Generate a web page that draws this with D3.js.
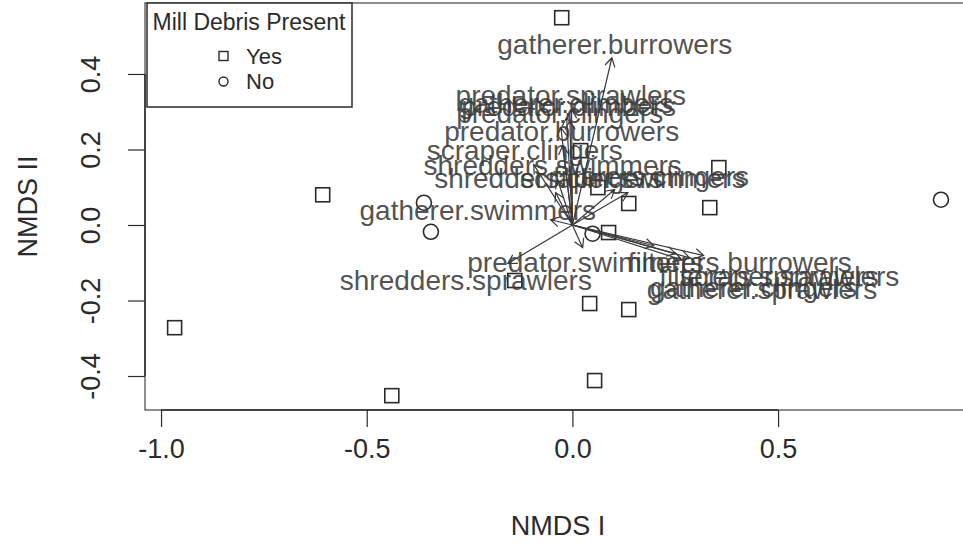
<!DOCTYPE html>
<html>
<head>
<meta charset="utf-8">
<script src="https://cdn.jsdelivr.net/npm/d3@7"></script>
<style>
  html, body { margin: 0; padding: 0; background: #fff; }
  svg { display: block; font-family: "Liberation Sans", Arial, Helvetica, sans-serif; }
</style>
</head>
<body>
<svg id="chart" width="963" height="544"></svg>
<script>
// NMDS site scores, grouped by whether mill debris was present
const siteX   = [-0.026, -0.607, -0.967, -0.439, 0.054, 0.042, 0.137, 0.137, 0.334, 0.356, 0.062, 0.020, 0.088, -0.140,
                 0.896, -0.361, -0.344, 0.049];
const siteY   = [0.549, 0.080, -0.272, -0.452, -0.412, -0.208, -0.224, 0.057, 0.046, 0.152, 0.099, 0.197, -0.020, -0.147,
                 0.067, 0.059, -0.018, -0.023];
const siteDebris = ["Yes","Yes","Yes","Yes","Yes","Yes","Yes","Yes","Yes","Yes","Yes","Yes","Yes","Yes",
                    "No","No","No","No"];

// Fitted trait vectors (arrow heads) and their label anchors, in NMDS units
const vecNames = ["gatherer.burrowers","predator.sprawlers","gatherer.climbers","predator.climbers",
                  "predator.clingers","predator.burrowers","scraper.clingers","shredders.swimmers",
                  "shredders.clingers","scraper.swimmers","filterers.clingers","gatherer.swimmers",
                  "shredders.sprawlers","predator.swimmers","filterers.burrowers","scraper.sprawlers",
                  "filterers.sprawlers","gatherer.sprawlers","gatherer.clingers"];
const vecX  = [0.096, -0.002, -0.014, -0.006, -0.028, -0.024, -0.094, -0.036, -0.041, 0.103, 0.135, -0.053,
               -0.157, 0.025, 0.198, 0.319, 0.285, 0.251, 0.266];
const vecY  = [0.443, 0.306, 0.285, 0.276, 0.258, 0.210, 0.160, 0.120, 0.086, 0.094, 0.086, 0.014,
               -0.102, -0.060, -0.055, -0.081, -0.087, -0.076, -0.092];
const labX  = [0.103, -0.004, -0.016, -0.009, -0.031, -0.026, -0.116, -0.048, -0.058, 0.147, 0.191, -0.230,
               -0.259, 0.032, 0.407, 0.528, 0.478, 0.461, 0.440];
const labY  = [0.480, 0.345, 0.324, 0.316, 0.297, 0.250, 0.200, 0.160, 0.125, 0.125, 0.131, 0.041,
               -0.145, -0.097, -0.097, -0.134, -0.134, -0.168, -0.165];

const xTicks = [-1.0, -0.5, 0.0, 0.5];
const yTicks = [-0.4, -0.2, 0.0, 0.2, 0.4];
const legendTitle = "Mill Debris Present";
const legendKeys = ["Yes", "No"];

const svg = d3.select("#chart");
const frame = { left: 145, right: 971, top: 3, bottom: 410 };

const x = d3.scaleLinear().domain([-1.039, 0.969]).range([frame.left, frame.right]);
const y = d3.scaleLinear().domain([-0.490, 0.588]).range([frame.bottom, frame.top]);

const ink = "#2b2b2b";
const fmt = d => d.toFixed(1);   // plain hyphen-minus, as in base graphics

// plot frame
svg.append("rect")
  .attr("x", frame.left).attr("y", frame.top)
  .attr("width", frame.right - frame.left).attr("height", frame.bottom - frame.top)
  .attr("fill", "none").attr("stroke", "#444").attr("stroke-width", 1.2);

// x axis (line spans the tick range, labels below)
const xAxis = svg.append("g").attr("transform", `translate(0,${frame.bottom})`)
  .call(d3.axisBottom(x).tickValues(xTicks).tickFormat(fmt).tickSize(17).tickPadding(28));
xAxis.select(".domain").attr("d", `M${x(xTicks[0])},0H${x(xTicks[xTicks.length - 1])}`)
  .attr("stroke", ink).attr("stroke-width", 1.5);
xAxis.selectAll(".tick line").attr("stroke", ink).attr("stroke-width", 1.2);
xAxis.selectAll(".tick text").attr("font-size", 27).attr("fill", ink)
  .attr("font-family", "Liberation Sans, Arial, sans-serif").attr("dy", "0.1em");

// y axis with labels parallel to the axis
const yAxis = svg.append("g").attr("transform", `translate(${frame.left},0)`)
  .call(d3.axisLeft(y).tickValues(yTicks).tickFormat(fmt).tickSize(17));
yAxis.select(".domain").attr("d", `M0,${y(yTicks[0])}V${y(yTicks[yTicks.length - 1])}`)
  .attr("stroke", ink).attr("stroke-width", 1.5);
yAxis.selectAll(".tick line").attr("stroke", ink).attr("stroke-width", 1.2);
yAxis.selectAll(".tick text").remove();
yAxis.selectAll(".tick").append("text")
  .attr("transform", "translate(-45,0) rotate(-90)")
  .attr("text-anchor", "middle")
  .attr("font-size", 27).attr("fill", ink)
  .attr("font-family", "Liberation Sans, Arial, sans-serif")
  .text(fmt);

// axis titles
svg.append("text").attr("x", (frame.left + frame.right) / 2).attr("y", 535)
  .attr("text-anchor", "middle").attr("font-size", 27).attr("fill", ink).text("NMDS I");
svg.append("text").attr("transform", `translate(37,${(frame.top + frame.bottom) / 2}) rotate(-90)`)
  .attr("text-anchor", "middle").attr("font-size", 27).attr("fill", ink).text("NMDS II");

// sites
const sites = siteX.map((v, i) => ({ x: v, y: siteY[i], debris: siteDebris[i] }));
const sq = 14;
svg.append("g").selectAll("rect").data(sites.filter(d => d.debris === "Yes")).join("rect")
  .attr("x", d => x(d.x) - sq / 2).attr("y", d => y(d.y) - sq / 2)
  .attr("width", sq).attr("height", sq)
  .attr("fill", "none").attr("stroke", ink).attr("stroke-width", 1.6);
svg.append("g").selectAll("circle").data(sites.filter(d => d.debris === "No")).join("circle")
  .attr("cx", d => x(d.x)).attr("cy", d => y(d.y)).attr("r", 7.5)
  .attr("fill", "none").attr("stroke", ink).attr("stroke-width", 1.6);

// trait vectors
const vecs = vecNames.map((n, i) => ({ name: n, x: vecX[i], y: vecY[i], lx: labX[i], ly: labY[i] }));
const arrowG = svg.append("g").attr("stroke", "#3a3a3a").attr("stroke-width", 1.2).attr("fill", "none");
const head = 10, ang = Math.PI / 6;
vecs.forEach(v => {
  const x0 = x(0), y0 = y(0), x1 = x(v.x), y1 = y(v.y);
  const a = Math.atan2(y1 - y0, x1 - x0);
  arrowG.append("path").attr("d",
    `M${x0},${y0}L${x1},${y1}` +
    `M${x1 - head * Math.cos(a - ang)},${y1 - head * Math.sin(a - ang)}L${x1},${y1}` +
    `L${x1 - head * Math.cos(a + ang)},${y1 - head * Math.sin(a + ang)}`);
});
svg.append("g").selectAll("text").data(vecs).join("text")
  .attr("x", d => x(d.lx)).attr("y", d => y(d.ly))
  .attr("dy", "0.36em")
  .attr("text-anchor", "middle").attr("font-size", 28)
  .attr("fill", "#3c3c3c").attr("fill-opacity", 0.9)
  .text(d => d.name);

// legend
const lg = svg.append("g");
lg.append("rect").attr("x", 147).attr("y", 3).attr("width", 205).attr("height", 104)
  .attr("fill", "#fff").attr("stroke", ink).attr("stroke-width", 1.5);
lg.append("text").attr("x", 249).attr("y", 30).attr("text-anchor", "middle")
  .attr("font-size", 23).attr("fill", ink).text(legendTitle);
legendKeys.forEach((k, i) => {
  const cy = 56 + i * 25.5;
  if (k === "Yes") {
    lg.append("rect").attr("x", 219).attr("y", cy - 4.5).attr("width", 9).attr("height", 9)
      .attr("fill", "none").attr("stroke", ink).attr("stroke-width", 1.4);
  } else {
    lg.append("circle").attr("cx", 223.5).attr("cy", cy).attr("r", 4.5)
      .attr("fill", "none").attr("stroke", ink).attr("stroke-width", 1.4);
  }
  lg.append("text").attr("x", 246).attr("y", cy + 7.5).attr("font-size", 22).attr("fill", ink).text(k);
});
</script>
</body>
</html>
